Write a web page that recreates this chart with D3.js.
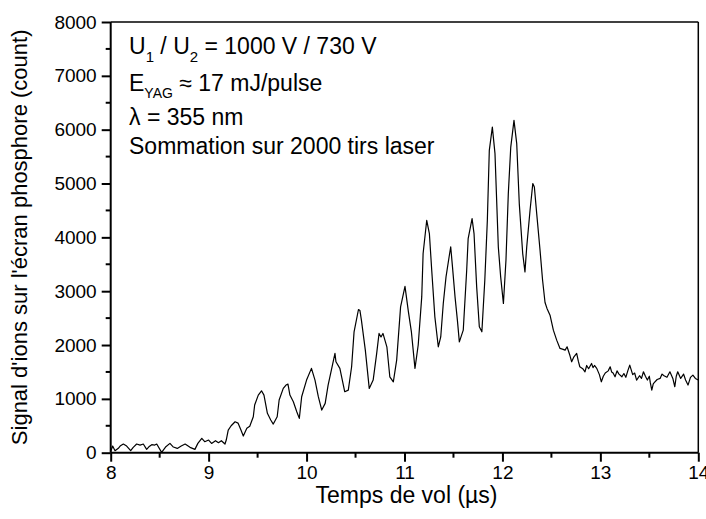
<!DOCTYPE html>
<html>
<head>
<meta charset="utf-8">
<script src="https://cdn.jsdelivr.net/npm/d3@7"></script>
<style>
  html, body { margin: 0; padding: 0; background: #fff; }
  svg { display: block; font-family: Arial, "Liberation Sans", sans-serif; }
</style>
</head>
<body>
<svg id="chart" width="706" height="519"></svg>
<script>
// ---- data ----
const timeUs = [
  8.00, 8.02, 8.044, 8.078, 8.10, 8.129, 8.163, 8.204, 8.23, 8.265, 8.30, 8.333, 8.367, 8.39, 8.419,
  8.45, 8.47, 8.52, 8.56, 8.605, 8.64, 8.68, 8.72, 8.76, 8.81, 8.86, 8.89, 8.93, 8.96, 9.00,
  9.03, 9.07, 9.10, 9.13, 9.167, 9.18, 9.20, 9.23, 9.27, 9.30, 9.33, 9.354, 9.39, 9.42, 9.456,
  9.47, 9.507, 9.54, 9.565, 9.60, 9.634, 9.66, 9.70, 9.72, 9.762, 9.79, 9.81, 9.83, 9.865, 9.90,
  9.926, 9.95, 10.00, 10.05, 10.086, 10.12, 10.155, 10.19, 10.22, 10.257, 10.29, 10.30, 10.34, 10.39, 10.426,
  10.46, 10.485, 10.53, 10.545, 10.56, 10.60, 10.64, 10.68, 10.716, 10.74, 10.76, 10.78, 10.82, 10.85, 10.886,
  10.92, 10.96, 11.005, 11.04, 11.07, 11.107, 11.14, 11.176, 11.19, 11.227, 11.254, 11.278, 11.31, 11.345, 11.37,
  11.396, 11.424, 11.458, 11.472, 11.49, 11.516, 11.54, 11.56, 11.60, 11.635, 11.65, 11.69, 11.71, 11.737, 11.764,
  11.79, 11.82, 11.846, 11.866, 11.897, 11.924, 11.958, 11.982, 12.01, 12.036, 12.06, 12.085, 12.118, 12.146, 12.172,
  12.207, 12.23, 12.248, 12.282, 12.31, 12.326, 12.35, 12.384, 12.41, 12.435, 12.455, 12.486, 12.52, 12.554, 12.588,
  12.62, 12.64, 12.66, 12.69, 12.707, 12.73, 12.758, 12.775, 12.79, 12.82, 12.843, 12.86, 12.88, 12.91, 12.925,
  12.94, 12.963, 12.99, 13.01, 13.03, 13.05, 13.08, 13.10, 13.115, 13.13, 13.15, 13.17, 13.19, 13.22, 13.24,
  13.26, 13.28, 13.30, 13.33, 13.35, 13.37, 13.40, 13.42, 13.44, 13.46, 13.48, 13.50, 13.51, 13.525, 13.54,
  13.55, 13.58, 13.61, 13.63, 13.65, 13.68, 13.71, 13.74, 13.76, 13.775, 13.79, 13.82, 13.85, 13.87, 13.895,
  13.92, 13.945, 13.97, 14.00
];
const counts = [
  20, 124, 37, 82, 130, 161, 124, 37, 99, 161, 142, 161, 62, 110, 149,
  142, 161, 6, 105, 173, 105, 80, 124, 161, 99, 62, 173, 267, 204, 235,
  173, 223, 186, 223, 161, 235, 420, 500, 575, 550, 420, 310, 452, 490, 668,
  885, 1070, 1150, 1070, 731, 607, 532, 668, 978, 1194, 1256, 1274, 1070, 947, 760,
  638, 1040, 1349, 1566, 1349, 1040, 792, 916, 1256, 1566, 1844, 1689, 1566, 1132, 1163,
  1596, 2245, 2660, 2640, 2462, 1905, 1194, 1349, 1844, 2215, 2150, 2215, 1967, 1410, 1317,
  1720, 2709, 3090, 2616, 2250, 1566, 2000, 2894, 3699, 4317, 4070, 3390, 2523, 1967, 2150,
  2771, 3265, 3668, 3822, 3451, 2894, 2462, 2059, 2276, 3390, 3978, 4349, 4070, 3080, 2338,
  2245, 3204, 4317, 5616, 6048, 5555, 3822, 3265, 2771, 3575, 4812, 5677, 6172, 5740, 4627,
  3699, 3358, 3822, 4503, 4998, 4935, 4441, 3760, 3204, 2790, 2680, 2555, 2276, 2091, 1937,
  1920, 1905, 1967, 1800, 1689, 1780, 1844, 1700, 1596, 1560, 1503, 1620, 1560, 1658, 1580,
  1620, 1566, 1450, 1317, 1420, 1480, 1520, 1596, 1500, 1480, 1410, 1520, 1460, 1410, 1470,
  1400, 1520, 1627, 1450, 1480, 1349, 1430, 1380, 1503, 1420, 1350, 1420, 1300, 1163, 1280,
  1300, 1360, 1380, 1460, 1430, 1400, 1503, 1380, 1225, 1420, 1503, 1380, 1460, 1350, 1256,
  1400, 1441, 1380, 1349
];
const xTicks = [8, 9, 10, 11, 12, 13, 14];
const yTicks = [0, 1000, 2000, 3000, 4000, 5000, 6000, 7000, 8000];
const xMinorTicks = [8.5, 9.5, 10.5, 11.5, 12.5, 13.5];
const yMinorTicks = [500, 1500, 2500, 3500, 4500, 5500, 6500, 7500];
const xDomain = [8, 14];
const yDomain = [0, 8000];
const xTitle = "Temps de vol (µs)";
const yTitle = "Signal d'ions sur l'écran phosphore (count)";

// ---- layout ----
const svg = d3.select("#chart");
const plot = { left: 110.7, right: 698.3, top: 22, bottom: 452.7 };

const x = d3.scaleLinear().domain(xDomain).range([plot.left, plot.right]);
const y = d3.scaleLinear().domain(yDomain).range([plot.bottom, plot.top]);

const data = timeUs.map((t, i) => ({ t, v: counts[i] }));

// frame top & right
svg.append("line").attr("x1", plot.left).attr("x2", plot.right)
  .attr("y1", plot.top).attr("y2", plot.top).attr("stroke", "#000").attr("stroke-width", 1.5);
svg.append("line").attr("x1", plot.right).attr("x2", plot.right)
  .attr("y1", plot.top).attr("y2", plot.bottom).attr("stroke", "#000").attr("stroke-width", 1.5);

// data line
svg.append("path")
  .datum(data)
  .attr("fill", "none")
  .attr("stroke", "#000")
  .attr("stroke-width", 1.2)
  .attr("stroke-linejoin", "round")
  .attr("d", d3.line().x(d => x(d.t)).y(d => y(d.v)));

// x axis
const xAxis = svg.append("g").attr("transform", `translate(0,${plot.bottom})`)
  .call(d3.axisBottom(x).tickValues(xTicks).tickSize(9).tickPadding(4).tickFormat(d3.format("d")));
xAxis.append("g").selectAll("line").data(xMinorTicks).join("line")
  .attr("x1", d => x(d)).attr("x2", d => x(d)).attr("y1", 0).attr("y2", 5)
  .attr("stroke", "#000").attr("stroke-width", 2);

// y axis
const yAxis = svg.append("g").attr("transform", `translate(${plot.left},0)`)
  .call(d3.axisLeft(y).tickValues(yTicks).tickSize(9).tickPadding(5).tickFormat(d3.format("d")));
yAxis.append("g").selectAll("line").data(yMinorTicks).join("line")
  .attr("y1", d => y(d)).attr("y2", d => y(d)).attr("x1", 0).attr("x2", -5)
  .attr("stroke", "#000").attr("stroke-width", 2);

[xAxis, yAxis].forEach(g => {
  g.select(".domain").attr("stroke", "#000").attr("stroke-width", 2);
  g.selectAll(".tick line").attr("stroke", "#000").attr("stroke-width", 2);
  g.selectAll(".tick text").attr("fill", "#000")
    .style("font-size", "19px").style("font-family", "Arial, 'Liberation Sans', sans-serif");
});
xAxis.selectAll(".tick text").attr("dy", null).attr("y", 26.5);
yAxis.select(".domain").attr("d", `M0,${plot.top}V${plot.bottom}`);
xAxis.select(".domain").attr("d", `M${plot.left},0H${plot.right}`);

// axis titles
svg.append("text").attr("x", (plot.left + plot.right) / 2 + 2).attr("y", 503)
  .attr("text-anchor", "middle").style("font-size", "23px").text(xTitle);
svg.append("text").attr("transform", `translate(27,${(plot.top + plot.bottom) / 2}) rotate(-90)`)
  .attr("text-anchor", "middle").style("font-size", "22px").text(yTitle);

// annotation
const ann = svg.append("g").style("font-size", "23px");
const l1 = ann.append("text").attr("x", 129).attr("y", 54);
l1.append("tspan").text("U");
l1.append("tspan").attr("dy", 7.5).style("font-size", "15px").text("1");
l1.append("tspan").attr("dy", -7.5).text(" / U");
l1.append("tspan").attr("dy", 7.5).style("font-size", "15px").text("2");
l1.append("tspan").attr("dy", -7.5).text(" = 1000 V / 730 V");
const l2 = ann.append("text").attr("x", 129).attr("y", 90.5);
l2.append("tspan").text("E");
l2.append("tspan").attr("dy", 7.5).style("font-size", "14px").text("YAG");
l2.append("tspan").attr("dy", -7.5).text(" ≈ 17 mJ/pulse");
ann.append("text").attr("x", 129).attr("y", 125).text("λ = 355 nm");
ann.append("text").attr("x", 129).attr("y", 154).text("Sommation sur 2000 tirs laser");
</script>
</body>
</html>
